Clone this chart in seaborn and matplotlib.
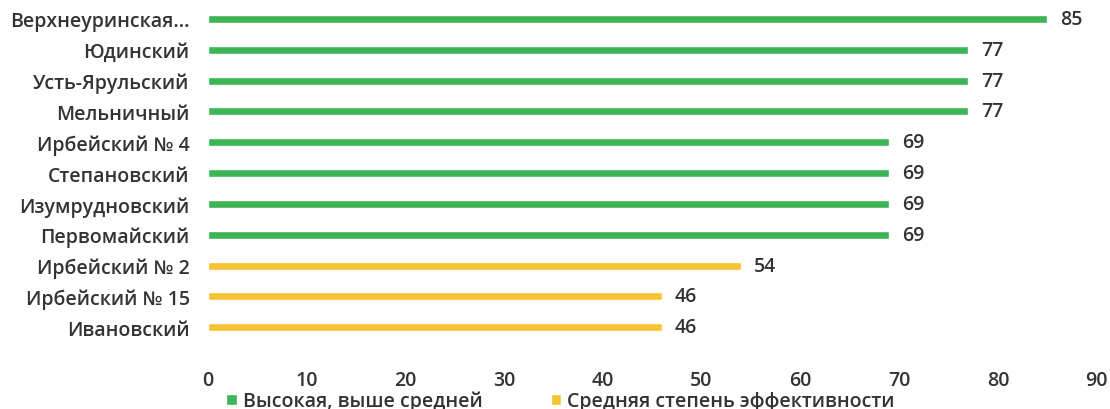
import pandas as pd
import seaborn as sns
import matplotlib.pyplot as plt

# Данные с графика
schools = ['Верхнеуринская...', 'Юдинский', 'Усть-Ярульский', 'Мельничный',
           'Ирбейский № 4', 'Степановский', 'Изумрудновский', 'Первомайский',
           'Ирбейский № 2', 'Ирбейский № 15', 'Ивановский']
values = [85, 77, 77, 77, 69, 69, 69, 69, 54, 46, 46]
groups = ['Высокая, выше средней'] * 8 + ['Средняя степень эффективности'] * 3
group_colors = {'Высокая, выше средней': '#3cb556',
                'Средняя степень эффективности': '#f7c233'}
x_ticks = [0, 10, 20, 30, 40, 50, 60, 70, 80, 90]

df = pd.DataFrame({'school': schools, 'value': values, 'group': groups})

sns.set_style('white')
plt.rcParams['font.family'] = ['Open Sans', 'DejaVu Sans']
TXT = '#333333'

fig = plt.figure(figsize=(11.1, 4.1), dpi=100)
ax = fig.add_axes([0.187, 0.162, 0.801, 0.827])

sns.barplot(data=df, y='school', x='value', hue='group', palette=group_colors,
            dodge=False, width=0.26, saturation=1, ax=ax, legend=True)

# подписи значений
for i, v in enumerate(values):
    ax.text(v + 1.3, i, str(v), va='center', ha='left', fontsize=14,
            fontweight='semibold', color=TXT)

ax.set_xlim(0, 90)
ax.set_ylim(10.5, -0.5)
ax.set_xticks(x_ticks)
ax.set_xlabel('')
ax.set_ylabel('')
ax.tick_params(axis='x', length=0, pad=20, labelcolor=TXT)
ax.tick_params(axis='y', length=0, pad=13, labelcolor=TXT)
for lab in ax.get_xticklabels() + ax.get_yticklabels():
    lab.set_fontsize(14)
    lab.set_fontweight('semibold')
sns.despine(ax=ax, left=True, bottom=True)

ax.legend(loc='center', bbox_to_anchor=(0.505, 1 - 402 / 410),
          bbox_transform=fig.transFigure, ncol=2, frameon=False,
          prop={'size': 14, 'weight': 'semibold'}, handlelength=0.55,
          handleheight=0.55, handletextpad=0.3, columnspacing=3.5,
          labelcolor=TXT, borderpad=0)

plt.savefig('out.png', dpi=100)
